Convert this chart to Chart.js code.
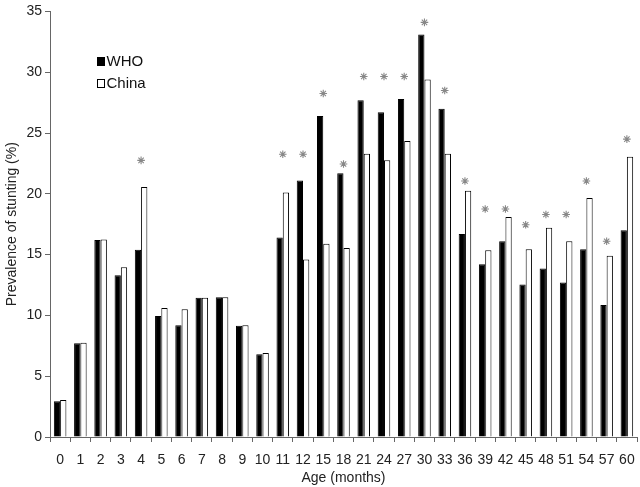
<!DOCTYPE html>
<html>
<head>
<meta charset="utf-8">
<script src="https://cdn.jsdelivr.net/npm/chart.js@4.4.1/dist/chart.umd.min.js"></script>
<style>
  html, body { margin: 0; padding: 0; background: #fff; }
  #wrap { width: 640px; height: 487px; }
</style>
</head>
<body>
<div id="wrap"><canvas id="stuntingChart" width="640" height="487"></canvas></div>
<script>
// Age groups (months)
const ages = ['0', '1', '2', '3', '4', '5', '6', '7', '8', '9', '10', '11', '12',
  '15', '18', '21', '24', '27', '30', '33', '36', '39', '42', '45', '48', '51', '54', '57', '60'];

// Prevalence of stunting (%)
const whoValues = [2.95, 7.7, 16.2, 13.3, 15.4, 9.95, 9.2, 11.45, 11.5, 9.15, 6.8, 16.4, 21.1,
  26.4, 21.7, 27.7, 26.7, 27.8, 33.1, 27.0, 16.7, 14.2, 16.1, 12.55, 13.85, 12.7, 15.45, 10.85, 17.0];
const chinaValues = [3.05, 7.75, 16.25, 13.95, 20.55, 10.6, 10.5, 11.45, 11.5, 9.2, 6.9, 20.1, 14.6,
  15.9, 15.55, 23.3, 22.75, 24.35, 29.4, 23.3, 20.25, 15.35, 18.1, 15.45, 17.2, 16.1, 19.65, 14.9, 23.05];

// Significance markers (height of the asterisk, null = none)
const starLevels = [null, null, null, null, 22.75, null, null, null, null, null, null, 23.25, 23.25,
  28.25, 22.45, 29.65, 29.65, 29.65, 34.1, 28.5, 21.05, 18.75, 18.75, 17.45, 18.3, 18.3, 21.05, 16.1, 24.5];

const seriesNames = ['WHO', 'China'];
const yTicks = [0, 5, 10, 15, 20, 25, 30, 35];

const fontFamily = '"Liberation Sans", Arial, sans-serif';
const axisColor = '#666';

// Draws the grey asterisks above the bars
const starPlugin = {
  id: 'stars',
  afterDatasetsDraw(chart) {
    const ctx = chart.ctx;
    const xScale = chart.scales.x;
    const yScale = chart.scales.y;
    ctx.save();
    ctx.strokeStyle = '#888';
    ctx.lineWidth = 1.1;
    starLevels.forEach((level, i) => {
      if (level === null) return;
      const cx = xScale.getPixelForValue(i);
      const cy = yScale.getPixelForValue(level);
      const r = 3.8;
      ctx.beginPath();
      for (let k = 0; k < 4; k++) {
        const a = k * Math.PI / 4;
        ctx.moveTo(cx - r * Math.cos(a), cy - r * Math.sin(a));
        ctx.lineTo(cx + r * Math.cos(a), cy + r * Math.sin(a));
      }
      ctx.stroke();
    });
    ctx.restore();
  }
};

// Legend drawn inside the plot area, top left
const legendPlugin = {
  id: 'innerLegend',
  afterDraw(chart) {
    const ctx = chart.ctx;
    ctx.save();
    ctx.font = '15px ' + fontFamily;
    ctx.textBaseline = 'middle';
    chart.data.datasets.forEach((ds, i) => {
      const x = 97.5;
      const y = 61.5 + i * 22;
      ctx.fillStyle = ds.backgroundColor;
      ctx.fillRect(x, y - 4, 7, 8);
      ctx.strokeStyle = '#000';
      ctx.lineWidth = 1;
      ctx.strokeRect(x, y - 4, 7, 8);
      ctx.fillStyle = '#111';
      ctx.fillText(ds.label, x + 9, y);
    });
    ctx.restore();
  }
};

new Chart(document.getElementById('stuntingChart'), {
  type: 'bar',
  data: {
    labels: ages,
    datasets: [
      {
        label: seriesNames[0],
        data: whoValues,
        backgroundColor: '#000',
        borderColor: '#000',
        borderWidth: 1,
        categoryPercentage: 0.62,
        barPercentage: 1.0
      },
      {
        label: seriesNames[1],
        data: chinaValues,
        backgroundColor: '#fff',
        borderColor: '#000',
        borderWidth: 1,
        categoryPercentage: 0.62,
        barPercentage: 1.0
      }
    ]
  },
  options: {
    responsive: false,
    animation: false,
    layout: { padding: { top: 5, right: 3, left: 0, bottom: 0 } },
    plugins: {
      legend: { display: false },
      tooltip: { enabled: false }
    },
    scales: {
      x: {
        border: { color: axisColor, width: 1 },
        grid: { display: true, drawOnChartArea: false, drawTicks: true, tickLength: 5, color: axisColor },
        ticks: { color: '#222', font: { size: 14, family: fontFamily }, padding: 10, maxRotation: 0, autoSkip: false },
        title: { display: true, text: 'Age (months)', color: '#222', font: { size: 14, family: fontFamily }, padding: { top: 0, bottom: 0 } },
        afterFit(scale) { scale.height = 50; scale.paddingRight = 0; scale.paddingLeft = 0; }
      },
      y: {
        min: 0,
        max: 35,
        afterBuildTicks(scale) { scale.ticks = yTicks.map(v => ({ value: v })); },
        border: { color: axisColor, width: 1 },
        grid: { display: true, drawOnChartArea: false, drawTicks: true, tickLength: 5, color: axisColor },
        ticks: { color: '#222', font: { size: 14, family: fontFamily }, padding: 3 },
        title: { display: true, text: 'Prevalence of stunting (%)', color: '#222', font: { size: 14, family: fontFamily }, padding: { top: 4, bottom: 0 } },
        afterFit(scale) { scale.width = 50; }
      }
    }
  },
  plugins: [starPlugin, legendPlugin]
});
</script>
</body>
</html>
